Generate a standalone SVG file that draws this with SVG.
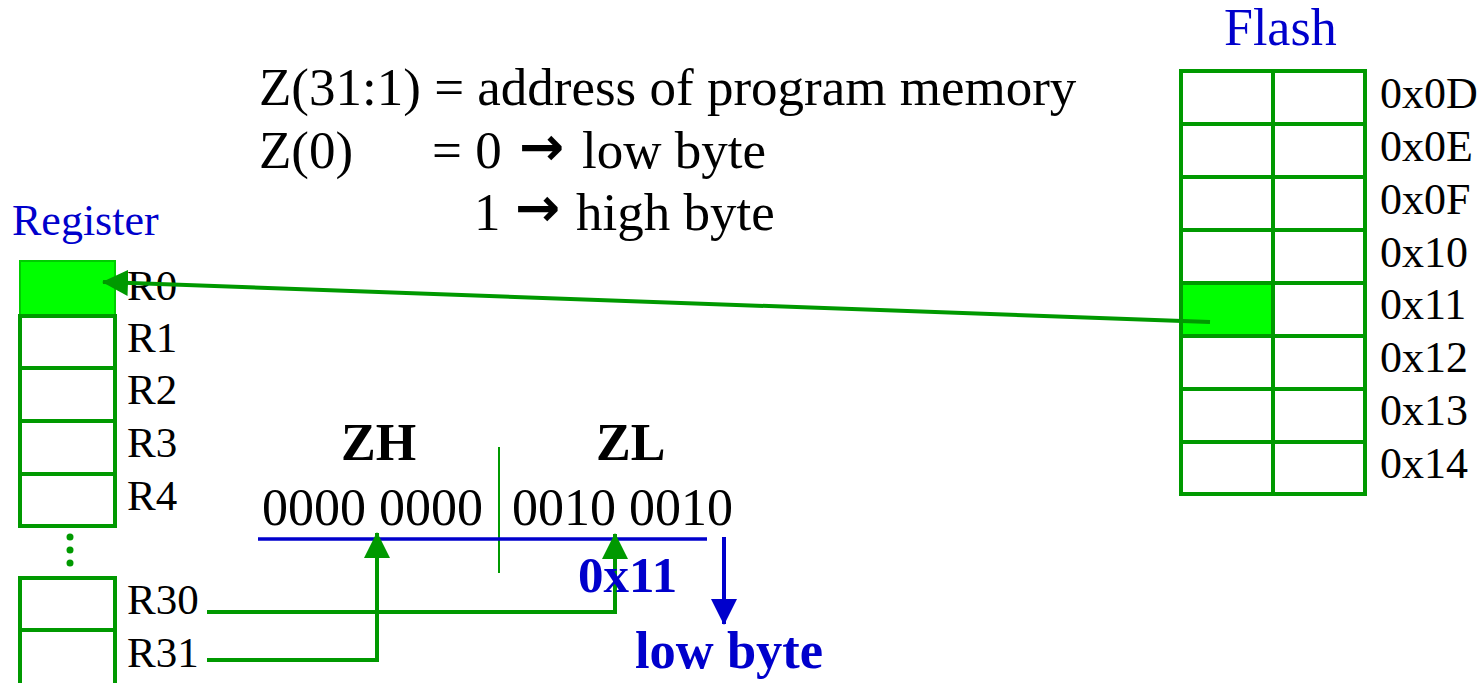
<svg xmlns="http://www.w3.org/2000/svg" width="1484" height="683" viewBox="0 0 1484 683">
  <style>
    .cell { fill: #ffffff; stroke: #009900; stroke-width: 4; }
    .hot { fill: #00ff00; stroke: #009900; stroke-width: 4; }
    .txt { font-family: "Liberation Serif", "Times New Roman", serif; fill: #000000; }
    .blue { fill: #0000cc; }
    .bold { font-weight: bold; }
    .wire { fill: none; stroke: #009900; stroke-width: 4; }
    .lbl { font-size: 43px; }
    .big { font-size: 52px; }
    .arw { font-family: "DejaVu Sans", sans-serif; font-weight: bold; font-size: 54px; }
  </style>
  <defs>
    <marker id="greenHead" markerUnits="userSpaceOnUse" markerWidth="26" markerHeight="26" viewBox="0 0 26 26" refX="25" refY="13" orient="auto">
      <path d="M0,0 L26,13 L0,26 Z" fill="#009900"/>
    </marker>
    <marker id="blueHead" markerUnits="userSpaceOnUse" markerWidth="26" markerHeight="26" viewBox="0 0 26 26" refX="25" refY="13" orient="auto">
      <path d="M0,0 L26,13 L0,26 Z" fill="#0000cc"/>
    </marker>
  </defs>

  <rect width="1484" height="683" fill="#ffffff"/>

  <!-- description text -->
  <g id="legend" class="txt" style="font-size:53px">
    <text x="259" y="105">Z(31:1) = address of program memory</text>
    <text x="259" y="168">Z(0)</text>
    <text x="432" y="168">= 0</text>
    <text x="519" y="165" class="arw">→</text>
    <text x="582" y="168">low byte</text>
    <text x="474" y="230">1</text>
    <text x="515" y="226" class="arw">→</text>
    <text x="576" y="230">high byte</text>
  </g>

  <!-- register file -->
  <g id="register">
    <text class="txt blue" style="font-size:44px" x="12" y="235">Register</text>
    <rect class="hot" x="20" y="261" width="95" height="55" style="stroke:#00cc00;stroke-width:2"/>
    <rect class="cell" x="20" y="316" width="95" height="52"/>
    <rect class="cell" x="20" y="368" width="95" height="53"/>
    <rect class="cell" x="20" y="421" width="95" height="53"/>
    <rect class="cell" x="20" y="474" width="95" height="52"/>
    <circle cx="70" cy="537" r="3.5" fill="#009900"/>
    <circle cx="70" cy="550" r="3.5" fill="#009900"/>
    <circle cx="70" cy="563" r="3.5" fill="#009900"/>
    <rect class="cell" x="20" y="578" width="95" height="52"/>
    <rect class="cell" x="20" y="630" width="95" height="56"/>
    <g class="txt lbl">
      <text x="127" y="300">R0</text>
      <text x="127" y="352">R1</text>
      <text x="127" y="404">R2</text>
      <text x="127" y="457">R3</text>
      <text x="127" y="510">R4</text>
      <text x="127" y="614">R30</text>
      <text x="127" y="667">R31</text>
    </g>
  </g>

  <!-- flash memory -->
  <g id="flash">
    <text class="txt blue big" x="1224" y="45">Flash</text>
    <rect class="cell" x="1181" y="71" width="184" height="423"/>
    <rect class="hot" x="1181" y="283" width="92" height="53" style="stroke:none"/>
    <g fill="none" stroke="#009900" stroke-width="4">
      <path d="M1273,71 V494"/>
      <path d="M1181,124 H1365 M1181,177 H1365 M1181,230 H1365 M1181,283 H1365 M1181,336 H1365 M1181,389 H1365 M1181,442 H1365"/>
      <rect x="1181" y="71" width="184" height="423"/>
    </g>
    <g class="txt" style="font-size:44px">
      <text x="1380" y="108">0x0D</text>
      <text x="1380" y="161">0x0E</text>
      <text x="1380" y="214">0x0F</text>
      <text x="1380" y="267">0x10</text>
      <text x="1380" y="319">0x11</text>
      <text x="1380" y="372">0x12</text>
      <text x="1380" y="425">0x13</text>
      <text x="1380" y="478">0x14</text>
    </g>
  </g>

  <!-- Z register bits -->
  <g id="zreg">
    <path d="M499,447 V573" stroke="#009900" stroke-width="2" fill="none"/>
    <path d="M258,539 H707" stroke="#0000cc" stroke-width="3.5" fill="none"/>
    <text class="txt bold big" x="341" y="460">ZH</text>
    <text class="txt bold big" x="596" y="460">ZL</text>
    <text class="txt big" x="262" y="525">0000 0000</text>
    <text class="txt big" x="512" y="525">0010 0010</text>
  </g>

  <!-- connectors -->
  <g id="connectors">
    <path class="wire" d="M1210,322 L103,282" marker-end="url(#greenHead)"/>
    <path class="wire" d="M207,612 H615 V534" marker-end="url(#greenHead)"/>
    <path class="wire" d="M207,660 H377 V533" marker-end="url(#greenHead)"/>
    <path d="M724,537 V624" stroke="#0000cc" stroke-width="4" fill="none" marker-end="url(#blueHead)"/>
  </g>

  <g id="notes">
    <text class="txt blue bold" style="font-size:51px" x="578" y="592">0x11</text>
    <text class="txt blue bold" style="font-size:52.5px" x="635" y="668">low byte</text>
  </g>
</svg>
